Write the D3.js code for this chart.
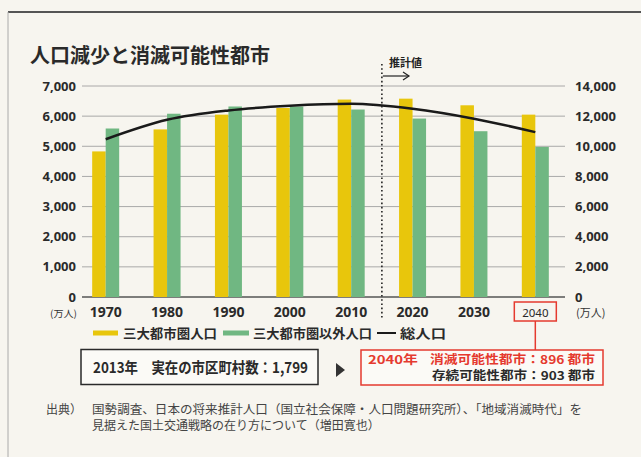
<!DOCTYPE html>
<html>
<head>
<meta charset="utf-8">
<script src="https://cdn.jsdelivr.net/npm/d3@7"></script>
<style>
  body { margin: 0; background: #f7f5ef; }
  svg { display: block; }
  text { font-family: "Noto Sans CJK JP", "Noto Sans", sans-serif; }
  .num { font-family: "Noto Sans", "DejaVu Sans", sans-serif; font-weight: bold; fill: #2a2a2a; }
</style>
</head>
<body>
<div id="chart"></div>
<script>
const years = ['1970', '1980', '1990', '2000', '2010', '2020', '2030', '2040'];
const metroPop = [4830, 5560, 6050, 6270, 6550, 6580, 6360, 6050];
const nonMetroPop = [5590, 6080, 6320, 6320, 6220, 5920, 5500, 4980];
const totalPop = [10470, 11760, 12380, 12690, 12820, 12490, 11830, 10940];
const leftTicks = [0, 1000, 2000, 3000, 4000, 5000, 6000, 7000];
const rightTicks = [0, 2000, 4000, 6000, 8000, 10000, 12000, 14000];

const width = 641, height = 457;
const yellow = '#e8c60c', green = '#70b782';

const svg = d3.select('#chart').append('svg')
  .attr('width', width).attr('height', height);

// frame
svg.append('rect').attr('x', 0).attr('y', 0).attr('width', width).attr('height', height).attr('fill', '#f7f5ef');
svg.append('line').attr('x1', 8).attr('x2', width).attr('y1', 12).attr('y2', 12)
  .attr('stroke', '#555').attr('stroke-width', 2);
svg.append('line').attr('x1', 8).attr('x2', 8).attr('y1', 12).attr('y2', height)
  .attr('stroke', '#aaa').attr('stroke-width', 1);

svg.append('text').attr('x', 30).attr('y', 63)
  .style('font-size', '20px').style('font-weight', 'bold').attr('fill', '#2a2a2a')
  .text('人口減少と消滅可能性都市');

const x = d3.scaleBand().domain(years).range([75, 566]).padding(0);
const yL = d3.scaleLinear().domain([0, 7000]).range([297, 86]);
const yR = d3.scaleLinear().domain([0, 14000]).range([297, 86]);
const bw = 13.5;

// gridlines
svg.append('g').selectAll('line').data(leftTicks).enter().append('line')
  .attr('x1', 82).attr('x2', 565)
  .attr('y1', d => yL(d)).attr('y2', d => yL(d))
  .attr('stroke', d => d === 0 ? '#555' : '#a0a0a0')
  .attr('stroke-width', d => d === 0 ? 1.3 : 0.9);

// left axis labels
svg.append('g').selectAll('text').data(leftTicks).enter().append('text')
  .attr('class', 'num').attr('x', 76).attr('y', d => yL(d)).attr('dy', '0.35em')
  .attr('text-anchor', 'end').style('font-size', '13px')
  .text(d => d3.format(',')(d));

// right axis labels
svg.append('g').selectAll('text').data(rightTicks).enter().append('text')
  .attr('class', 'num').attr('x', 575).attr('y', d => yR(d)).attr('dy', '0.35em')
  .attr('text-anchor', 'start').style('font-size', '13px')
  .text(d => d3.format(',')(d));

// bars
const center = d => x(d) + x.bandwidth() / 2;
svg.append('g').selectAll('rect').data(years).enter().append('rect')
  .attr('x', (d) => center(d) - bw).attr('width', bw)
  .attr('y', (d, i) => yL(metroPop[i])).attr('height', (d, i) => yL(0) - yL(metroPop[i]))
  .attr('fill', yellow);
svg.append('g').selectAll('rect').data(years).enter().append('rect')
  .attr('x', (d) => center(d)).attr('width', bw)
  .attr('y', (d, i) => yL(nonMetroPop[i])).attr('height', (d, i) => yL(0) - yL(nonMetroPop[i]))
  .attr('fill', green);

// total line
const line = d3.line()
  .x((d, i) => center(years[i]))
  .y(d => yR(d))
  .curve(d3.curveMonotoneX);
svg.append('path').datum(totalPop).attr('d', line)
  .attr('fill', 'none').attr('stroke', '#1a1a1a').attr('stroke-width', 2.5);

// projection divider
const divX = (center('2010') + center('2020')) / 2;
svg.append('line').attr('x1', divX).attr('x2', divX).attr('y1', 64).attr('y2', 320)
  .attr('stroke', '#222').attr('stroke-width', 1.6).attr('stroke-dasharray', '1.6,2.6');
svg.append('text').attr('x', 389).attr('y', 67)
  .style('font-size', '11px').style('font-weight', 'bold').attr('fill', '#222').text('推計値');
svg.append('line').attr('x1', divX + 1).attr('x2', 409).attr('y1', 76).attr('y2', 76)
  .attr('stroke', '#222').attr('stroke-width', 1.2);
svg.append('path').attr('d', `M403,72 L409,76 L403,80`).attr('fill', 'none')
  .attr('stroke', '#222').attr('stroke-width', 1.2);

// x labels
svg.append('g').selectAll('text').data(years).enter().append('text')
  .attr('class', 'num').attr('x', d => center(d)).attr('y', 317)
  .attr('text-anchor', 'middle')
  .style('font-size', d => d === '2040' ? '11.5px' : '14px')
  .style('font-weight', d => d === '2040' ? 'normal' : 'bold')
  .text(d => d);

// unit labels
svg.append('text').attr('x', 50).attr('y', 317).style('font-size', '9.5px')
  .attr('textLength', 27).attr('lengthAdjust', 'spacingAndGlyphs')
  .attr('fill', '#333').text('(万人)');
svg.append('text').attr('x', 576).attr('y', 317).style('font-size', '11px')
  .attr('fill', '#333').text('(万人)');

// 2040 highlight
const c40 = center('2040');
svg.append('rect').attr('x', c40 - 21).attr('y', 302).attr('width', 42).attr('height', 19)
  .attr('fill', 'none').attr('stroke', '#e53a2f').attr('stroke-width', 1.5);
svg.append('line').attr('x1', c40).attr('x2', c40).attr('y1', 321).attr('y2', 350)
  .attr('stroke', '#e53a2f').attr('stroke-width', 1.5);

// legend
const legend = svg.append('g').attr('transform', 'translate(0,333)');
const legendText = (x0, len, label) => legend.append('text').attr('x', x0).attr('y', 0).attr('dy', '0.36em')
  .style('font-size', '13px').style('font-weight', 'bold').attr('fill', '#2a2a2a')
  .attr('textLength', len).attr('lengthAdjust', 'spacingAndGlyphs').text(label);
legend.append('rect').attr('x', 93).attr('y', -2.5).attr('width', 25).attr('height', 5).attr('fill', yellow);
legendText(123, 94, '三大都市圏人口');
legend.append('rect').attr('x', 223).attr('y', -2.5).attr('width', 26).attr('height', 5).attr('fill', green);
legendText(253, 119, '三大都市圏以外人口');
legend.append('line').attr('x1', 377).attr('x2', 396).attr('y1', 0).attr('y2', 0)
  .attr('stroke', '#1a1a1a').attr('stroke-width', 2);
legendText(400, 46, '総人口');

// 2013 box
svg.append('rect').attr('x', 81).attr('y', 349.5).attr('width', 237).attr('height', 35)
  .attr('fill', '#fbfaf6').attr('stroke', '#2a2a2a').attr('stroke-width', 1.5);
svg.append('text').attr('x', 93).attr('y', 373)
  .style('font-size', '15px').attr('fill', '#2a2a2a').style('font-weight', 'bold')
  .attr('textLength', 215).attr('lengthAdjust', 'spacingAndGlyphs')
  .text('2013年\u3000実在の市区町村数：1,799');
svg.append('path').attr('d', 'M336,363 L345,370 L336,377 Z').attr('fill', '#333');

// 2040 box
svg.append('rect').attr('x', 361).attr('y', 350).attr('width', 242).attr('height', 35)
  .attr('fill', '#fbfaf6').attr('stroke', '#e53a2f').attr('stroke-width', 1.5);
svg.append('text').attr('x', 368).attr('y', 364)
  .style('font-size', '12px').style('font-weight', 'bold').attr('fill', '#e53a2f')
  .attr('textLength', 50).attr('lengthAdjust', 'spacingAndGlyphs').text('2040年');
svg.append('text').attr('x', 430).attr('y', 364)
  .style('font-size', '12px').style('font-weight', 'bold').attr('fill', '#e53a2f')
  .attr('textLength', 165).attr('lengthAdjust', 'spacingAndGlyphs').text('消滅可能性都市：896 都市');
svg.append('text').attr('x', 432).attr('y', 380)
  .style('font-size', '12px').style('font-weight', 'bold').attr('fill', '#2a2a2a')
  .attr('textLength', 163).attr('lengthAdjust', 'spacingAndGlyphs').text('存続可能性都市：903 都市');

// source
svg.append('text').attr('x', 46).attr('y', 414).style('font-size', '12px').attr('fill', '#444').text('出典）');
svg.append('text').attr('x', 92).attr('y', 414).style('font-size', '12px').attr('fill', '#444')
  .attr('textLength', 490).attr('lengthAdjust', 'spacingAndGlyphs')
  .text('国勢調査、日本の将来推計人口（国立社会保障・人口問題研究所）、「地域消滅時代」を');
svg.append('text').attr('x', 92).attr('y', 430).style('font-size', '12px').attr('fill', '#444')
  .text('見据えた国土交通戦略の在り方について（増田寛也）');
</script>
</body>
</html>
